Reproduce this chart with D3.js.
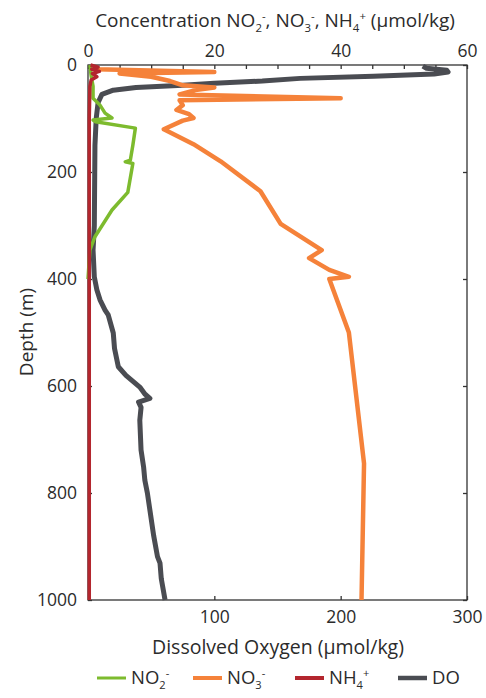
<html>
<head>
<style>
  body { margin: 0; background: #fff; }
  text { font-family: "Open Sans", sans-serif; fill: #2b2b2b; }
  .axis path, .axis line { stroke: #333; stroke-width: 1.3; }
  .axis text { font-size: 17.5px; fill: #2b2b2b; font-family: "Open Sans", sans-serif; }
</style>
</head>
<body>
<script src="https://d3js.org/d3.v7.min.js"></script>
<svg></svg>
<script>
// depth (m), value pairs
var no2 = [[0,0.3],[20,0.5],[40,0.8],[62,0.8],[75,1.9],[90,2.7],[99,3.8],[103,0.8],[106,1.2],[118,7.5],
  [150,7.1],[178,6.7],[181,5.9],[184,7.1],[238,6.3],[271,3.8],[321,1.1],[346,0.3],[400,0]];
var no3 = [[2,1.0],[8,1.4],[13,20],[16,5],[22,10],[30,13],[38,15],[42,20],[47,17],[55,14.5],[62,40],[66,14.5],
  [75,15],[84,14],[92,16],[99,16.7],[104,15],[120,12],[148,16.7],[180,21],[236,27.3],[297,30.5],[346,37],
  [361,35],[383,38.2],[396,41.3],[400,38.2],[500,41.3],[745,43.7],[1000,43.3]];
var nh4 = [[0,0.4],[4,1.6],[8,0.6],[12,1.8],[16,0.7],[22,1.4],[28,0.5],[40,0.3],[100,0.2],[400,0.2],[1000,0.2]];
var dox = [[2,265],[6,268],[10,284],[13,285],[17,274],[21,226],[25,168],[30,138],[34,100],[38,75],[42,38],
  [47,20],[55,11],[70,8],[100,6.5],[150,5.5],[300,5],[346,4],[396,5],[420,7],[439,9.5],[458,13.5],[467,16],
  [501,20],[530,21],[564,24],[580,30],[602,41],[615,45],[623,49],[630,40],[640,42],[664,41],[720,42],
  [751,44],[776,45],[800,47],[832,49],[880,52],[919,55],[931,57],[960,58],[1000,61]];

var concTicks = d3.range(0, 61, 5);
var doTicks = [100, 200, 300];
var depthTicks = [0, 200, 400, 600, 800, 1000];

var colors = { no2: "#7dbb2e", no3: "#f5823a", nh4: "#b3262e", dox: "#4a4c52" };

var margin = { top: 65, left: 88 };
var width = 379, height = 535;

var svg = d3.select("svg").attr("width", 486).attr("height", 698);

var y = d3.scaleLinear().domain([0, 1000]).range([margin.top, margin.top + height]);
var xc = d3.scaleLinear().domain([0, 60]).range([margin.left, margin.left + width]);
var xd = d3.scaleLinear().domain([0, 300]).range([margin.left, margin.left + width]);

// frame
svg.append("rect")
  .attr("x", margin.left).attr("y", margin.top)
  .attr("width", width).attr("height", height)
  .attr("fill", "none").attr("stroke", "#333").attr("stroke-width", 1.3);

svg.append("g").attr("class", "axis")
  .attr("transform", "translate(0," + margin.top + ")")
  .call(d3.axisTop(xc).tickValues(concTicks).tickSize(-4).tickSizeOuter(0).tickPadding(8)
    .tickFormat(d => d % 20 === 0 ? d : ""));

svg.append("g").attr("class", "axis")
  .attr("transform", "translate(0," + (margin.top + height) + ")")
  .call(d3.axisBottom(xd).tickValues(doTicks).tickSize(-4).tickSizeOuter(0).tickPadding(11));

svg.append("g").attr("class", "axis")
  .attr("transform", "translate(" + margin.left + ",0)")
  .call(d3.axisLeft(y).tickValues(depthTicks).tickSize(-4).tickSizeOuter(0).tickPadding(11)
    .tickFormat(d3.format("d")));

svg.append("g").attr("class", "axis")
  .attr("transform", "translate(" + (margin.left + width) + ",0)")
  .call(d3.axisRight(y).tickValues(depthTicks).tickSize(-4).tickSizeOuter(0).tickFormat(""));

svg.selectAll(".axis .domain").remove();

// lines
var lineC = d3.line().x(d => xc(d[1])).y(d => y(d[0]));
var lineD = d3.line().x(d => xd(d[1])).y(d => y(d[0]));

function draw(data, gen, color, w) {
  svg.append("path").datum(data)
    .attr("d", gen)
    .attr("fill", "none")
    .attr("stroke", color)
    .attr("stroke-width", w)
    .attr("stroke-linejoin", "round");
}
draw(dox, lineD, colors.dox, 5);
draw(no2, lineC, colors.no2, 3.5);
draw(no3, lineC, colors.no3, 4.5);
draw(nh4, lineC, colors.nh4, 3.5);

// chemistry text helper: parts = [text, "sub"/"sup"/null]
function chem(t, parts) {
  var shift = 0;
  parts.forEach(function(p) {
    var ts = t.append("tspan").text(p[0]);
    if (p[1] === "sub") {
      ts.attr("font-size", "0.6em").attr("dy", 5 - shift); shift = 5;
    } else if (p[1] === "sup") {
      ts.attr("font-size", "0.6em").attr("dy", -7 - shift); shift = -7;
    } else {
      ts.attr("dy", -shift); shift = 0;
    }
  });
}

var topTitle = svg.append("text").attr("x", 275).attr("y", 27)
  .attr("text-anchor", "middle").attr("font-size", 19);
chem(topTitle, [["Concentration NO"], ["2","sub"], ["-","sup"], [", NO"], ["3","sub"], ["-","sup"],
  [", NH"], ["4","sub"], ["+","sup"], [" (\u00b5mol/kg)"]]);

svg.append("text").attr("x", 278).attr("y", 654)
  .attr("text-anchor", "middle").attr("font-size", 19.5)
  .text("Dissolved Oxygen (\u00b5mol/kg)");

svg.append("text")
  .attr("transform", "translate(33,332) rotate(-90)")
  .attr("text-anchor", "middle").attr("font-size", 19)
  .text("Depth (m)");

// legend
var legend = [
  { x: 97, color: colors.no2, w: 3, parts: [["NO"], ["2","sub"], ["-","sup"]] },
  { x: 193, color: colors.no3, w: 4, parts: [["NO"], ["3","sub"], ["-","sup"]] },
  { x: 295, color: colors.nh4, w: 4, parts: [["NH"], ["4","sub"], ["+","sup"]] },
  { x: 398, color: colors.dox, w: 4.5, parts: [["DO"]] }
];
legend.forEach(function(l) {
  svg.append("line").attr("x1", l.x).attr("x2", l.x + 29)
    .attr("y1", 678).attr("y2", 678)
    .attr("stroke", l.color).attr("stroke-width", l.w);
  var t = svg.append("text").attr("x", l.x + 34).attr("y", 684).attr("font-size", 18.5);
  chem(t, l.parts);
});
</script>
</body>
</html>
